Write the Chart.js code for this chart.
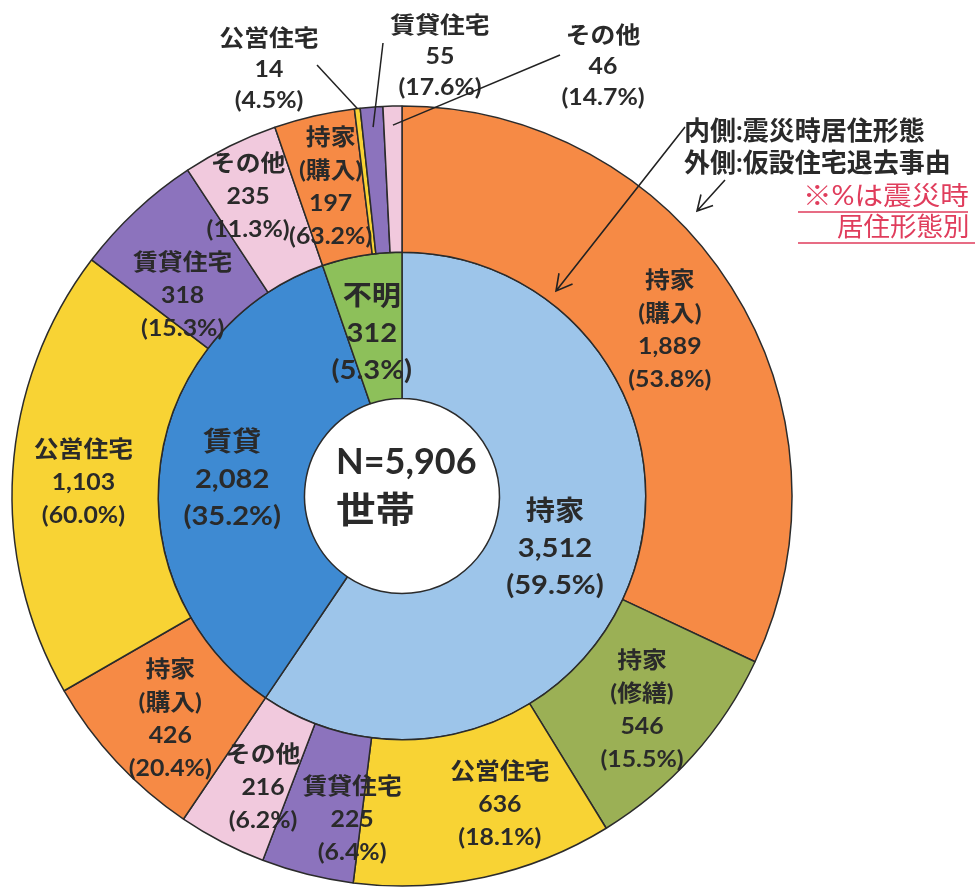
<!DOCTYPE html>
<html lang="ja">
<head>
    <meta charset="UTF-8">
    <title>震災時居住形態と仮設住宅退去事由</title>
    <script src="https://cdn.jsdelivr.net/npm/chart.js"></script>
    <style>
        html, body { margin: 0; padding: 0; background: #fff; }
        #chart { display: block; }
    </style>
</head>
<body>
    <canvas id="chart" width="978" height="887"></canvas>

    <script>
        // 内側: 震災時居住形態
        const innerLabels = ['持家', '賃貸', '不明'];
        const innerValues = [3512, 2082, 312];
        const innerPct = ['59.5%', '35.2%', '5.3%'];

        // 外側: 仮設住宅退去事由 (%は震災時居住形態別)
        const outerLabels = ['持家(購入)', '持家(修繕)', '公営住宅', '賃貸住宅', 'その他',
                             '持家(購入)', '公営住宅', '賃貸住宅', 'その他',
                             '持家(購入)', '公営住宅', '賃貸住宅', 'その他'];
        const outerValues = [1889, 546, 636, 225, 216, 426, 1103, 318, 235, 197, 14, 55, 46];
        const outerPct = ['53.8%', '15.5%', '18.1%', '6.4%', '6.2%', '20.4%', '60.0%', '15.3%', '11.3%',
                          '63.2%', '4.5%', '17.6%', '14.7%'];

        const totalText = ['N=5,906', '世帯'];

        const innerColors = { '持家': '#9DC5EA', '賃貸': '#3E8AD2', '不明': '#8DC05A' };
        const outerColors = {
            '持家(購入)': '#F68A45',
            '持家(修繕)': '#9BB055',
            '公営住宅': '#F8D334',
            '賃貸住宅': '#8C73BD',
            'その他': '#F1C9DD'
        };

        const FONT = '"Lato", "Noto Sans CJK JP", sans-serif';
        const TEXT = '#2a2a2a';
        const SX = 1.08; // the original lettering is a little wide

        // small nudges of label blocks off the slice centre: [degrees, px]
        const outerShift = [[0.7, -2], [0, 5], [-5.4, 7], [-5.3, 11], [-2, 6], [-1, 5], [-1.2, 2],
                            [-4.6, -20], [-1, 20], [0, 0]];
        const innerShift = [[1.8, -9], [-2, 0], [-1, -5]];

        // thin slices at the top get their labels outside with a leader line
        const callouts = [
            { index: 10, text: [269, 70], from: [317, 65], reach: 0 },
            { index: 11, text: [440, 57], from: [383, 43], reach: -20 },
            { index: 12, text: [603, 67], from: [560, 55], reach: -19 }
        ];

        function nameLines(name) {
            const i = name.indexOf('(');
            return i > 0 ? [name.slice(0, i), name.slice(i)] : [name];
        }

        function fmt(v) {
            return v.toLocaleString('en-US');
        }

        function wideText(ctx, t, x, y, sx) {
            ctx.save();
            ctx.translate(x, y);
            ctx.scale(sx, 1);
            ctx.fillText(t, 0, 0);
            ctx.restore();
        }

        function drawLines(ctx, lines, x, y, lh) {
            const top = y - (lines.length - 1) * lh / 2;
            lines.forEach((t, k) => wideText(ctx, t, x, top + k * lh, SX));
        }

        function arcPoint(arc, degShift, r) {
            const p = arc.getProps(['x', 'y', 'startAngle', 'endAngle'], true);
            const a = (p.startAngle + p.endAngle) / 2 + degShift * Math.PI / 180;
            return [p.x + Math.cos(a) * r, p.y + Math.sin(a) * r];
        }

        function arrow(ctx, x1, y1, x2, y2, head) {
            const a = Math.atan2(y1 - y2, x1 - x2);
            ctx.beginPath();
            ctx.moveTo(x1, y1);
            ctx.lineTo(x2, y2);
            ctx.moveTo(x2 + Math.cos(a + 0.5) * head, y2 + Math.sin(a + 0.5) * head);
            ctx.lineTo(x2, y2);
            ctx.lineTo(x2 + Math.cos(a - 0.5) * head, y2 + Math.sin(a - 0.5) * head);
            ctx.stroke();
        }

        const sliceLabels = {
            id: 'sliceLabels',
            afterDatasetsDraw(chart) {
                const ctx = chart.ctx;
                ctx.save();
                ctx.fillStyle = TEXT;
                ctx.textAlign = 'center';
                ctx.textBaseline = 'middle';

                // outer ring
                const outer = chart.getDatasetMeta(0).data;
                ctx.font = 'bold 23px ' + FONT;
                outer.forEach((arc, i) => {
                    if (callouts.some(c => c.index === i)) return;
                    const p = arc.getProps(['innerRadius', 'outerRadius'], true);
                    const s = outerShift[i] || [0, 0];
                    const [x, y] = arcPoint(arc, s[0], (p.innerRadius + p.outerRadius) / 2 + s[1]);
                    const lines = nameLines(outerLabels[i]).concat([fmt(outerValues[i]), '(' + outerPct[i] + ')']);
                    drawLines(ctx, lines, x, y, 33);
                });

                // callouts
                ctx.strokeStyle = '#222';
                ctx.lineWidth = 1.5;
                callouts.forEach(c => {
                    const arc = outer[c.index];
                    const p = arc.getProps(['outerRadius'], true);
                    const [ex, ey] = arcPoint(arc, 0, p.outerRadius + c.reach);
                    ctx.beginPath();
                    ctx.moveTo(c.from[0], c.from[1]);
                    ctx.lineTo(ex, ey);
                    ctx.stroke();
                    const lines = [outerLabels[c.index], fmt(outerValues[c.index]), '(' + outerPct[c.index] + ')'];
                    drawLines(ctx, lines, c.text[0], c.text[1], 31);
                });

                // inner ring
                const inner = chart.getDatasetMeta(1).data;
                ctx.font = 'bold 27px ' + FONT;
                inner.forEach((arc, i) => {
                    const p = arc.getProps(['innerRadius', 'outerRadius'], true);
                    const s = innerShift[i];
                    const [x, y] = arcPoint(arc, s[0], (p.innerRadius + p.outerRadius) / 2 + s[1]);
                    drawLines(ctx, [innerLabels[i], fmt(innerValues[i]), '(' + innerPct[i] + ')'], x, y, 37);
                });

                // centre
                const c = inner[0].getProps(['x', 'y'], true);
                ctx.font = 'bold 36px ' + FONT;
                ctx.textAlign = 'left';
                ctx.fillText(totalText[0], c.x - 66, c.y - 34);
                wideText(ctx, totalText[1], c.x - 66, c.y + 15, 1.1);

                // legend note with arrows
                ctx.font = 'bold 26px ' + FONT;
                ctx.fillText('内側:震災時居住形態', 684, 132);
                ctx.fillText('外側:仮設住宅退去事由', 684, 164);
                ctx.lineWidth = 1.6;
                arrow(ctx, 685, 127, 556, 291, 18);
                arrow(ctx, 725, 180, 697, 211, 17);

                // red note
                ctx.fillStyle = '#E03D5C';
                ctx.strokeStyle = '#E03D5C';
                ctx.font = '26px ' + FONT;
                wideText(ctx, '※%は震災時', 803, 197, 1.1);
                wideText(ctx, '居住形態別', 837, 228, 1.02);
                ctx.lineWidth = 1.5;
                ctx.beginPath();
                ctx.moveTo(798, 212); ctx.lineTo(968, 212);
                ctx.moveTo(798, 243); ctx.lineTo(975, 243);
                ctx.stroke();

                ctx.restore();
            }
        };

        const ctx = document.getElementById('chart').getContext('2d');
        const chart = new Chart(ctx, {
            type: 'doughnut',
            data: {
                labels: outerLabels,
                datasets: [
                    {
                        data: outerValues,
                        backgroundColor: outerLabels.map(l => outerColors[l]),
                        borderColor: '#2b2b2b',
                        borderWidth: 1.5,
                        hoverBorderWidth: 1.5
                    },
                    {
                        data: innerValues,
                        backgroundColor: innerLabels.map(l => innerColors[l]),
                        borderColor: '#2b2b2b',
                        borderWidth: 1.5,
                        hoverBorderWidth: 1.5
                    }
                ]
            },
            options: {
                responsive: false,
                animation: false,
                events: [],
                radius: 390,
                cutout: '25%',
                layout: { padding: { left: 0, right: 174, top: 105, bottom: 0 } },
                plugins: {
                    legend: { display: false },
                    tooltip: { enabled: false }
                }
            },
            plugins: [sliceLabels]
        });
    </script>
</body>
</html>
